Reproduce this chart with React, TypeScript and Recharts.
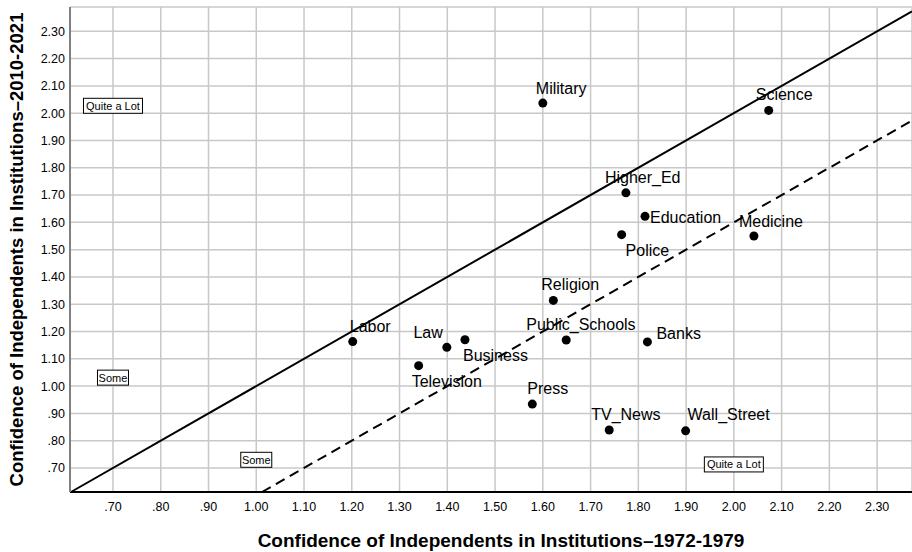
import React from 'react';
import { ScatterChart, Scatter, XAxis, YAxis, CartesianGrid, ReferenceLine, ReferenceDot } from 'recharts';

const institutions = ['Military', 'Science', 'Higher_Ed', 'Education', 'Police', 'Medicine', 'Religion', 'Labor', 'Law', 'Business', 'Public_Schools', 'Banks', 'Television', 'Press', 'TV_News', 'Wall_Street'];
const conf1972to1979 = [1.600, 2.073, 1.774, 1.814, 1.765, 2.042, 1.622, 1.202, 1.399, 1.437, 1.649, 1.819, 1.340, 1.578, 1.739, 1.899];
const conf2010to2021 = [2.037, 2.010, 1.708, 1.622, 1.555, 1.550, 1.314, 1.163, 1.142, 1.170, 1.169, 1.162, 1.075, 0.934, 0.839, 0.836];

const axisTicks = [0.7, 0.8, 0.9, 1.0, 1.1, 1.2, 1.3, 1.4, 1.5, 1.6, 1.7, 1.8, 1.9, 2.0, 2.1, 2.2, 2.3];
const xDomain = [0.61, 2.373];
const yDomain = [0.612, 2.389];

// reference lines: y = x + offset
const refOffsets = [0, -0.4];
const refDashes = ['', '10 6'];

const annotationText = ['Quite a Lot', 'Some', 'Some', 'Quite a Lot'];
const annotationX = [0.70, 0.70, 1.00, 2.00];
const annotationY = [2.027, 1.031, 0.730, 0.713];

const xTitle = 'Confidence of Independents in Institutions\u20131972-1979';
const yTitle = 'Confidence of Independents in Institutions\u20132010-2021';

const data = institutions.map((name, i) => ({ name, x: conf1972to1979[i], y: conf2010to2021[i] }));

// label placement: [dx, dy, anchor]
const labelPlacement: Record<string, [number, number, string]> = {
  Military: [-7, -15, 'start'],
  Science: [-13, -16, 'start'],
  Higher_Ed: [-21, -15, 'start'],
  Education: [5, 1, 'start'],
  Medicine: [-15, -15, 'start'],
  Police: [4, 16, 'start'],
  Religion: [-12, -16, 'start'],
  Labor: [-3, -15, 'start'],
  Law: [-4, -15, 'end'],
  Business: [-2, 16, 'start'],
  Public_Schools: [-40, -16, 'start'],
  Banks: [9, -8, 'start'],
  Television: [-7, 16, 'start'],
  Press: [-5, -16, 'start'],
  TV_News: [-18, -16, 'start'],
  Wall_Street: [2, -16, 'start'],
};

const FONT = '"Liberation Sans", Arial, sans-serif';

const fmt = (v: number) => {
  const s = v.toFixed(2);
  return v < 1 ? s.replace(/^0/, '') : s;
};

const PointShape = (props: any) => {
  const { cx, cy, payload } = props;
  const p = labelPlacement[payload.name] || [0, -15, 'start'];
  return (
    <g>
      <circle cx={cx} cy={cy} r={4.5} fill="#000" />
      <text x={cx + p[0]} y={cy + p[1]} dy="0.35em" textAnchor={p[2] as any} fontSize={16} fontFamily={FONT} fill="#000">
        {payload.name}
      </text>
    </g>
  );
};

const makeBox = (text: string) => (props: any) => {
  const { cx, cy } = props;
  const w = text.length * 4 + 15;
  const h = 15;
  return (
    <g>
      <rect x={cx - w / 2} y={cy - h / 2} width={w} height={h} fill="#fff" stroke="#000" strokeWidth={1} />
      <text x={cx} y={cy} dy="0.36em" textAnchor="middle" fontSize={11} fontFamily={FONT} fill="#000">{text}</text>
    </g>
  );
};

export default function App() {
  return (
    <div style={{ position: 'absolute', left: 0, top: 0, background: '#fff' }}>
      <ScatterChart width={912} height={552} margin={{ top: 7, right: 0, bottom: 0, left: 0 }}>
        <CartesianGrid stroke="#c8c8c8" strokeWidth={1.5} />
        <XAxis
          type="number"
          dataKey="x"
          domain={xDomain}
          ticks={axisTicks}
          tickFormatter={fmt}
          allowDataOverflow
          height={60}
          tickLine={false}
          tickMargin={4}
          axisLine={{ stroke: '#000', strokeWidth: 2 }}
          tick={{ fill: '#000', fontSize: 12.5, fontFamily: FONT }}
          label={{
            content: (p: any) => {
              const vb = p.viewBox || { x: 70, y: 492, width: 842, height: 60 };
              return (
                <text x={vb.x + vb.width / 2 + 10} y={540} textAnchor="middle" dy="0.35em" fontSize={19} fontWeight="bold" fontFamily={FONT} fill="#000">
                  {xTitle}
                </text>
              );
            },
          }}
        />
        <YAxis
          type="number"
          dataKey="y"
          domain={yDomain}
          ticks={axisTicks}
          tickFormatter={fmt}
          allowDataOverflow
          width={70}
          tickLine={false}
          tickSize={3}
          tickMargin={2}
          axisLine={{ stroke: '#808080', strokeWidth: 2 }}
          tick={{ fill: '#000', fontSize: 12.5, fontFamily: FONT }}
          label={{
            content: (p: any) => {
              const vb = p.viewBox || { x: 0, y: 7, width: 70, height: 485 };
              const cy = vb.y + vb.height / 2;
              return (
                <text x={17} y={cy} transform={`rotate(-90, 17, ${cy})`} textAnchor="middle" dy="0.35em" fontSize={18.5} fontWeight="bold" fontFamily={FONT} fill="#000">
                  {yTitle}
                </text>
              );
            },
          }}
        />
        {refOffsets.map((off, i) => {
          const x0 = Math.max(xDomain[0], yDomain[0] - off);
          const x1 = Math.min(xDomain[1], yDomain[1] - off);
          return (
            <ReferenceLine
              key={`rl${i}`}
              segment={[{ x: x0, y: x0 + off }, { x: x1, y: x1 + off }]}
              stroke="#000"
              strokeWidth={2}
              strokeDasharray={refDashes[i]}
              ifOverflow="visible"
            />
          );
        })}
        {annotationText.map((t, i) => (
          <ReferenceDot key={`an${i}`} x={annotationX[i]} y={annotationY[i]} r={1} ifOverflow="visible" shape={makeBox(t)} />
        ))}
        <Scatter data={data} isAnimationActive={false} shape={<PointShape />} />
      </ScatterChart>
    </div>
  );
}
